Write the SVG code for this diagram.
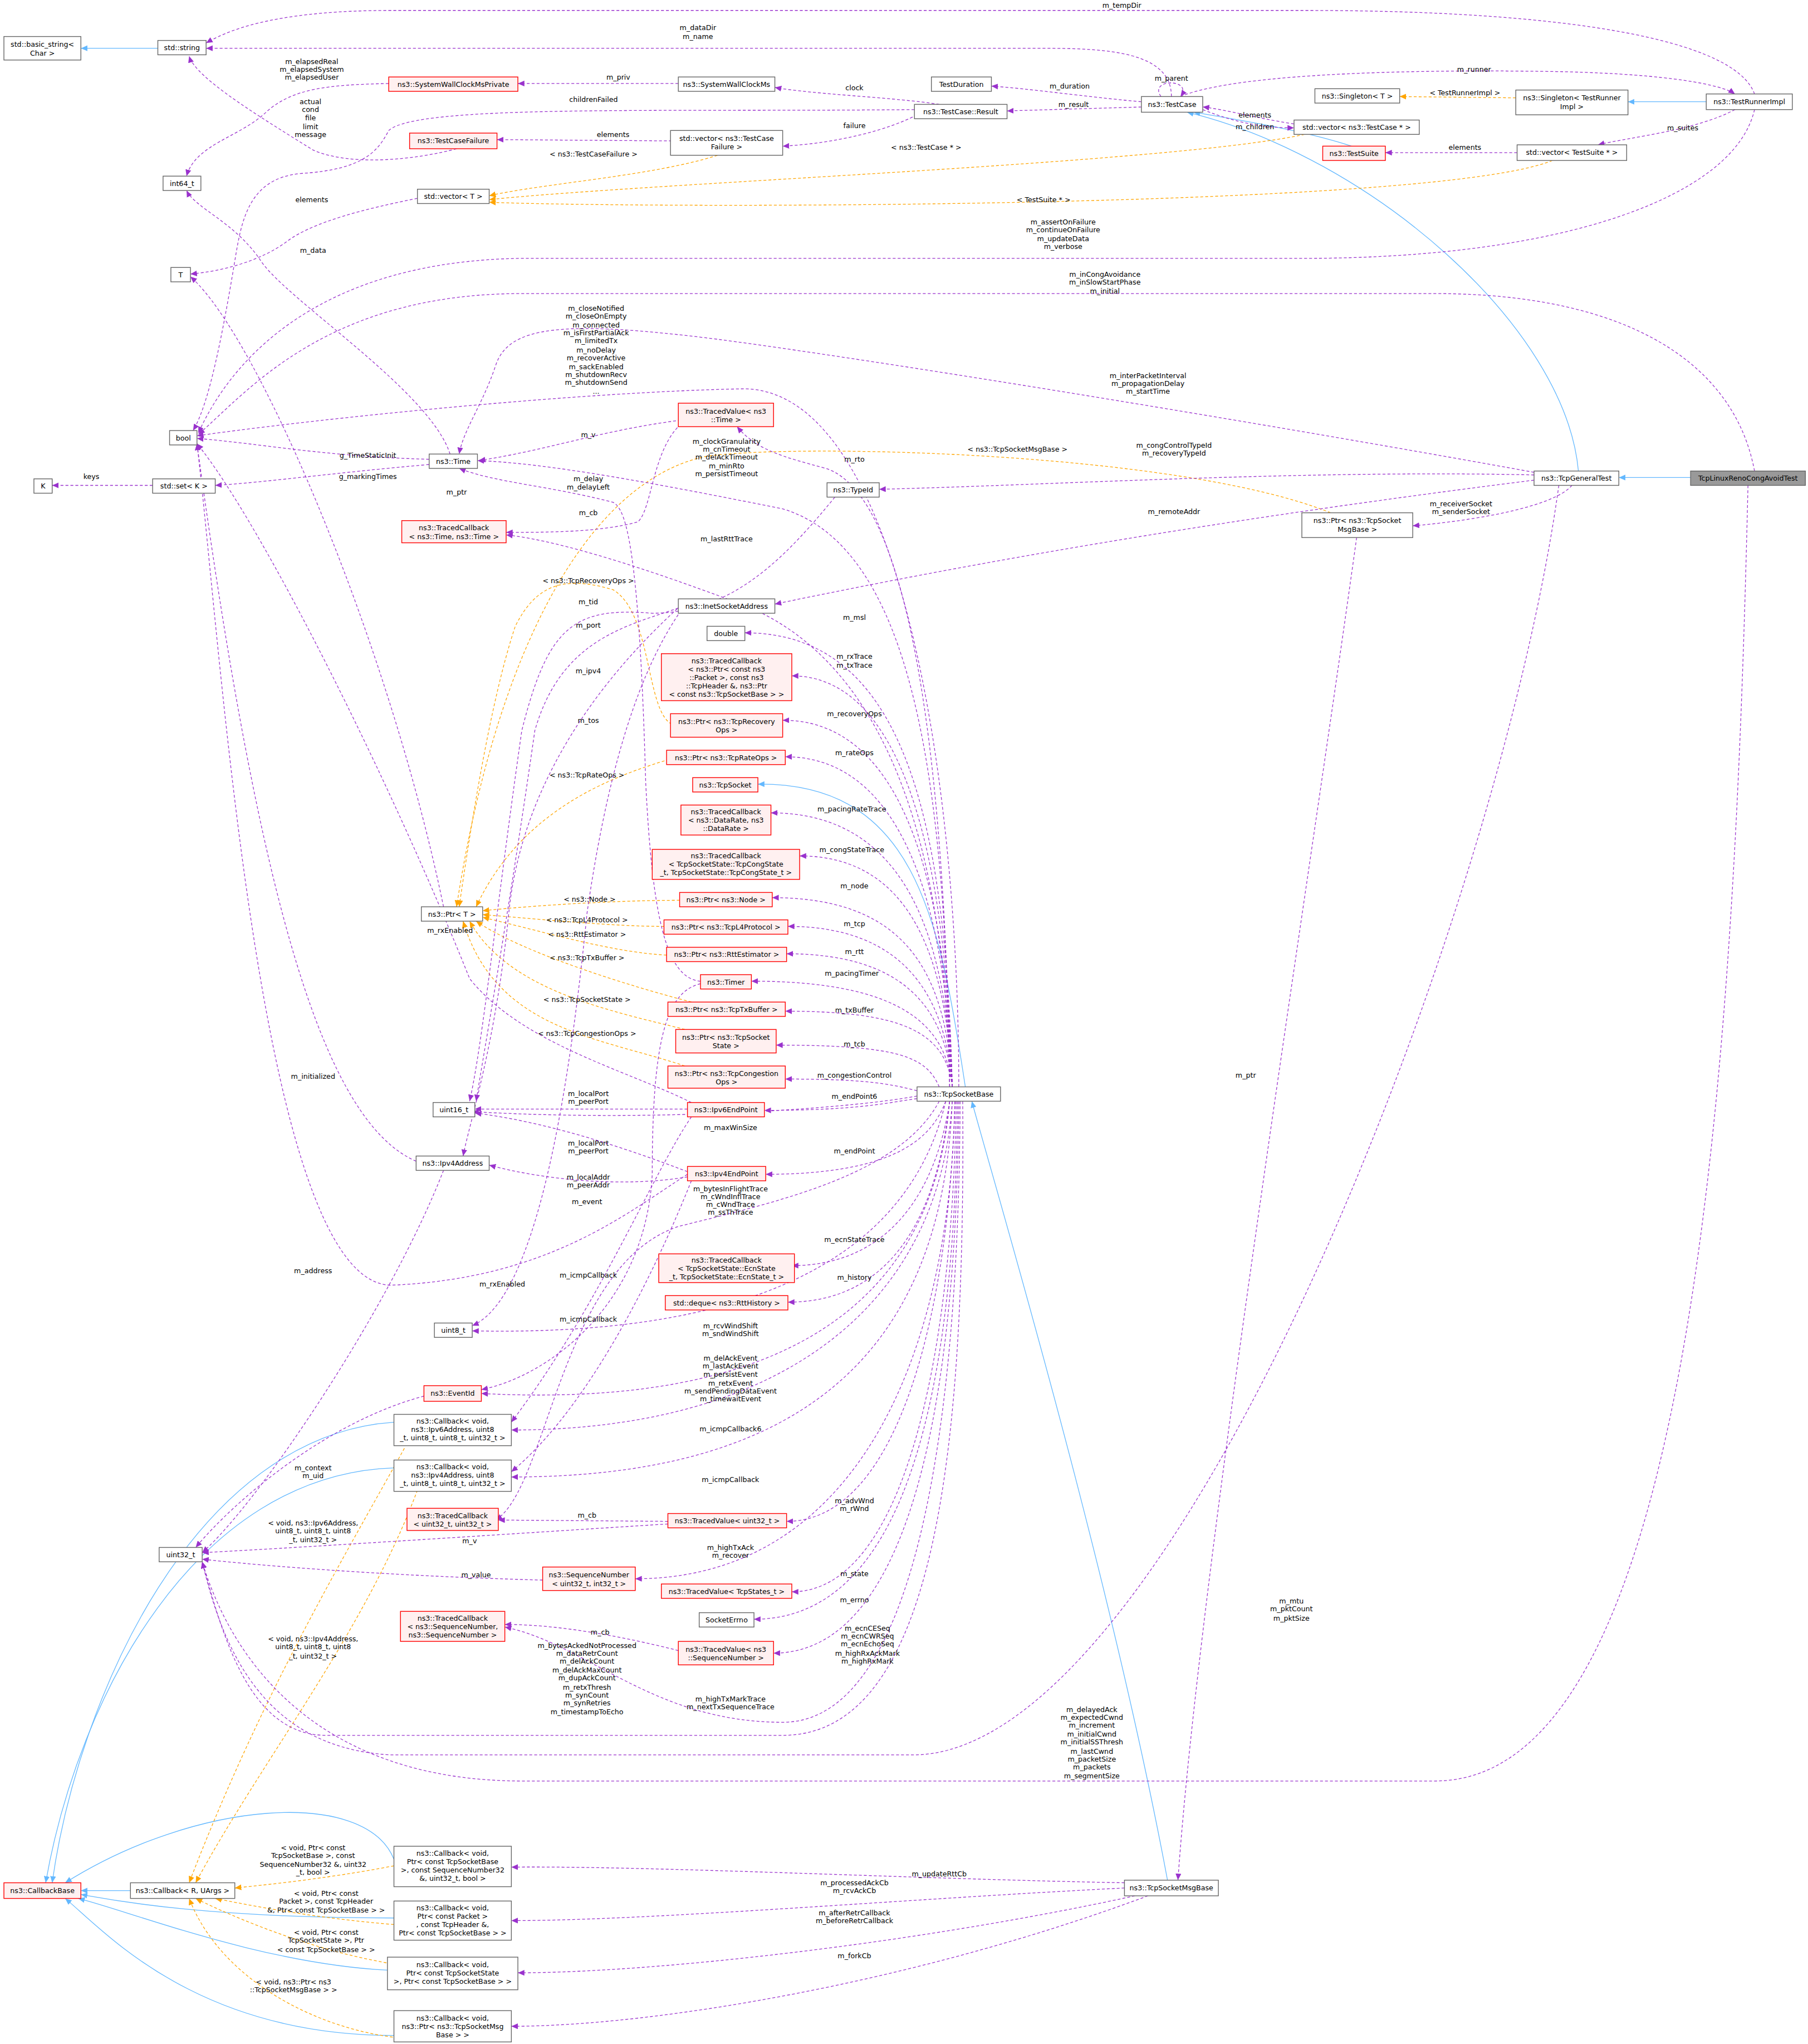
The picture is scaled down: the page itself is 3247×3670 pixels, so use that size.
<svg xmlns="http://www.w3.org/2000/svg" width="3247" height="3670" viewBox="0 0 3247 3670">
<defs>
<style>
text{font-family:"DejaVu Sans","Liberation Sans",sans-serif;font-size:5.4px;fill:#000;text-anchor:middle}
.n{fill:#fff;stroke:#666;stroke-width:0.6}
.r{fill:#fff0f0;stroke:#f00;stroke-width:0.6}
.g{fill:#999;stroke:#666;stroke-width:0.6}
.p{fill:none;stroke:#9a32cd;stroke-width:0.55;stroke-dasharray:2.2,1.6;marker-end:url(#ap)}
.b{fill:none;stroke:#63b8ff;stroke-width:0.55;marker-end:url(#ab)}
.o{fill:none;stroke:#ffa500;stroke-width:0.55;stroke-dasharray:2.2,1.6;marker-end:url(#ao)}
</style>
<marker id="ap" markerUnits="userSpaceOnUse" markerWidth="6" markerHeight="5" refX="5" refY="2.2" orient="auto"><path d="M0,0 L5,2.2 L0,4.4 z" fill="#9a32cd"/></marker>
<marker id="ab" markerUnits="userSpaceOnUse" markerWidth="6" markerHeight="5" refX="5" refY="2.2" orient="auto"><path d="M0,0 L5,2.2 L0,4.4 z" fill="#63b8ff"/></marker>
<marker id="ao" markerUnits="userSpaceOnUse" markerWidth="6" markerHeight="5" refX="5" refY="2.2" orient="auto"><path d="M0,0 L5,2.2 L0,4.4 z" fill="#ffa500"/></marker>
</defs>
<rect width="3247" height="3670" fill="#fff"/>
<g transform="scale(2.3427)">
<g id="connectors">
<path class="b" d="M121,37 L62,37"/>
<path class="b" d="M1308,78 L1248,78"/>
<path class="b" d="M1036,112 C1000,100 950,92 915,86"/>
<path class="b" d="M1210,361 C1200,250 1050,120 910,86"/>
<path class="b" d="M1298,366 L1241,366"/>
<path class="b" d="M895,1441 C850,1200 760,900 745,844"/>
<path class="b" d="M740,833 C720,700 700,600 581,601"/>
<path class="b" d="M100,1449 L62,1449"/>
<path class="b" d="M302,1090 C150,1100 60,1300 40,1443"/>
<path class="b" d="M302,1125 C150,1130 60,1300 35,1443"/>
<path class="b" d="M302,1425 C280,1370 150,1380 50,1443"/>
<path class="b" d="M302,1470 C150,1470 80,1455 62,1452"/>
<path class="b" d="M297,1510 C200,1505 100,1465 60,1455"/>
<path class="b" d="M302,1560 C150,1560 80,1480 50,1455"/>

<path class="o" d="M550,119 C500,135 420,140 375,150"/>
<path class="o" d="M1000,103 C900,125 500,140 375,153"/>
<path class="o" d="M1190,123 C1100,160 500,160 375,155"/>
<path class="o" d="M1162,75 L1073,74"/>
<path class="o" d="M1020,393 C900,345 600,340 540,350 C450,370 380,500 350,695"/>
<path class="o" d="M515,555 C495,545 500,470 470,452 C430,440 410,450 395,480 C375,540 360,640 352,695"/>
<path class="o" d="M513,582 C470,595 400,620 365,695"/>
<path class="o" d="M521,690 C480,690 420,693 370,698"/>
<path class="o" d="M509,710 C470,710 420,705 370,701"/>
<path class="o" d="M511,732 C470,730 420,715 370,703"/>
<path class="o" d="M530,768 C480,755 400,730 365,706"/>
<path class="o" d="M525,789 C470,775 390,760 360,706"/>
<path class="o" d="M525,817 C460,795 380,790 355,706"/>
<path class="o" d="M310,1110 C260,1200 200,1300 145,1443"/>
<path class="o" d="M320,1142 C280,1250 200,1350 150,1443"/>
<path class="o" d="M302,1430 C250,1440 200,1445 180,1447"/>
<path class="o" d="M302,1475 C240,1470 190,1460 165,1455"/>
<path class="o" d="M300,1505 C240,1495 180,1470 150,1455"/>
<path class="o" d="M320,1563 C250,1560 170,1520 145,1455"/>

<path class="p" d="M1345,72 C1330,30 1200,8 1000,8 L300,8 C220,8 180,20 158,33"/>
<path class="p" d="M898,74 C898,40 850,37 800,37 L158,37"/>
<path class="p" d="M350,114 C320,122 270,128 240,115 C200,90 150,60 145,43"/>
<path class="p" d="M298,64 C250,65 225,68 205,85 C185,105 150,110 143,135"/>
<path class="p" d="M520,64 L397,64"/>
<path class="p" d="M720,80 C690,75 620,72 594,67"/>
<path class="p" d="M875,78 C830,74 790,68 760,66"/>
<path class="p" d="M875,82 L772,85"/>
<path class="p" d="M890,74 C880,60 915,60 905,74"/>
<path class="p" d="M701,84 C500,86 320,80 298,100 C290,115 280,130 230,133 C190,137 185,170 180,200 C170,260 160,310 148,330"/>
<path class="p" d="M703,88 C680,100 640,110 600,112"/>
<path class="p" d="M515,108 L381,107"/>
<path class="p" d="M320,152 C280,160 240,170 220,185 C200,200 170,208 146,210"/>
<path class="p" d="M345,348 C330,300 220,230 200,200 C180,170 150,160 143,146"/>
<path class="p" d="M992,95 C960,90 940,84 922,82"/>
<path class="p" d="M922,84 C950,95 970,98 992,98"/>
<path class="p" d="M905,74 C950,55 1100,53 1200,55 C1280,57 1320,65 1330,72"/>
<path class="p" d="M1330,84 C1300,100 1250,105 1225,111"/>
<path class="p" d="M1163,117 L1062,117"/>
<path class="p" d="M1345,84 C1330,150 1200,198 1000,198 L400,198 C250,200 180,270 152,332"/>
<path class="p" d="M1345,361 C1330,280 1250,225 1100,225 L400,225 C250,225 190,300 152,333"/>
<path class="p" d="M1340,372 C1330,800 1300,1365 1100,1365 L400,1365 C250,1365 180,1280 155,1197"/>
<path class="p" d="M1176,362 C1000,330 700,280 550,260 C430,245 390,250 380,280 C370,310 355,330 352,348"/>
<path class="p" d="M1176,364 C1000,360 800,372 674,375"/>
<path class="p" d="M1176,368 C1000,390 800,420 594,463"/>
<path class="p" d="M1205,372 C1190,390 1120,400 1083,403"/>
<path class="p" d="M1195,372 C1150,700 900,1345 700,1345 L300,1345 C200,1340 170,1260 155,1197"/>
<path class="p" d="M1040,412 C1000,700 920,1200 903,1441"/>
<path class="p" d="M862,1443 C700,1440 500,1430 392,1431"/>
<path class="p" d="M862,1447 C700,1455 500,1472 392,1472"/>
<path class="p" d="M870,1453 C700,1490 500,1512 397,1512"/>
<path class="p" d="M880,1453 C700,1520 500,1553 392,1553"/>

<path class="p" d="M735,833 C735,600 690,300 571,298 C450,300 250,320 151,334"/>
<path class="p" d="M728,833 C725,600 700,380 633,359 C600,350 580,345 565,327"/>
<path class="p" d="M728,833 C725,600 700,420 600,390 C500,370 420,355 366,353"/>
<path class="p" d="M728,833 C725,650 680,500 560,460 C480,430 420,413 388,410"/>
<path class="p" d="M730,833 C725,620 690,485 571,485"/>
<path class="p" d="M730,833 C725,650 690,518 607,518"/>
<path class="p" d="M730,833 C725,670 690,552 600,552"/>
<path class="p" d="M730,833 C725,690 690,580 602,580"/>
<path class="p" d="M730,833 C725,710 690,623 591,623"/>
<path class="p" d="M730,833 C725,720 690,656 613,656"/>
<path class="p" d="M730,833 C725,740 690,688 592,688"/>
<path class="p" d="M730,833 C725,760 690,710 604,710"/>
<path class="p" d="M730,833 C725,770 690,731 603,731"/>
<path class="p" d="M730,833 C725,785 690,752 576,752"/>
<path class="p" d="M730,833 C725,790 690,775 602,775"/>
<path class="p" d="M720,833 C710,810 690,801 595,801"/>
<path class="p" d="M703,836 C680,830 660,827 602,827"/>
<path class="p" d="M703,842 C680,845 660,851 586,851"/>
<path class="p" d="M703,840 C650,850 500,860 362,852"/>
<path class="p" d="M725,844 C715,870 690,900 587,900"/>
<path class="p" d="M720,844 C690,900 600,920 520,940 C430,970 420,1140 380,1165"/>
<path class="p" d="M728,844 C720,900 690,970 607,970"/>
<path class="p" d="M728,844 C720,920 690,998 604,998"/>
<path class="p" d="M725,844 C700,950 600,1025 362,1020"/>
<path class="p" d="M728,844 C715,1000 600,1080 369,1068"/>
<path class="p" d="M730,844 C720,1000 600,1096 392,1096"/>
<path class="p" d="M730,844 C722,1050 600,1132 392,1132"/>
<path class="p" d="M732,844 C728,1000 690,1166 603,1166"/>
<path class="p" d="M732,844 C728,1050 650,1210 487,1210"/>
<path class="p" d="M733,844 C730,1050 690,1220 607,1220"/>
<path class="p" d="M734,844 C732,1080 690,1241 578,1241"/>
<path class="p" d="M735,844 C733,1100 690,1267 593,1267"/>
<path class="p" d="M736,844 C735,1100 700,1320 600,1320 C500,1320 450,1260 387,1247"/>
<path class="p" d="M738,844 C740,1100 720,1330 600,1330 L250,1330 C190,1330 170,1250 155,1197"/>

<path class="p" d="M522,322 C460,330 420,345 367,353"/>
<path class="p" d="M522,325 C500,345 500,390 489,400 C460,408 420,408 388,408"/>
<path class="p" d="M537,752 C510,750 500,700 495,600 C490,420 480,390 470,385 C420,372 380,370 352,359"/>
<path class="p" d="M537,754 C510,760 500,800 500,900 C495,1000 420,1055 369,1065"/>
<path class="p" d="M640,381 C600,430 560,470 500,470 C440,465 420,480 400,560 C380,700 370,800 360,844"/>
<path class="p" d="M520,466 C480,480 430,490 410,560 C390,700 372,800 365,844"/>
<path class="p" d="M522,464 C460,520 400,600 390,700 C380,800 360,860 355,886"/>
<path class="p" d="M522,468 C500,500 470,560 450,700 C430,900 400,1000 362,1016"/>
<path class="p" d="M527,850 L364,850"/>
<path class="p" d="M530,845 C480,820 400,800 360,750 C300,600 200,400 151,340"/>
<path class="p" d="M530,856 C500,900 460,1000 392,1090"/>
<path class="p" d="M527,898 C480,880 420,860 364,853"/>
<path class="p" d="M527,902 C480,910 420,905 375,893"/>
<path class="p" d="M530,905 C500,980 450,1080 392,1128"/>
<path class="p" d="M527,900 C480,930 420,980 300,985 C200,985 170,500 151,340"/>
<path class="p" d="M329,352 C250,350 200,340 151,336"/>
<path class="p" d="M329,356 C260,362 200,370 165,372"/>
<path class="p" d="M117,372 L40,372"/>
<path class="p" d="M340,695 C300,500 200,260 146,212"/>
<path class="p" d="M319,890 C250,860 200,700 151,340"/>
<path class="p" d="M340,897 C300,1000 200,1150 155,1190"/>
<path class="p" d="M512,1166 L382,1165"/>
<path class="p" d="M512,1168 C400,1175 250,1185 155,1190"/>
<path class="p" d="M416,1211 C300,1208 200,1200 155,1195"/>
<path class="p" d="M520,1265 C480,1255 430,1245 387,1245"/>
<path class="p" d="M325,1070 C250,1090 180,1150 150,1186"/>

<g id="labels">
<text x="860" y="6">m_tempDir</text>
<text x="535" y="23">m_dataDir</text><text x="535" y="30">m_name</text>
<text x="238" y="80">actual</text><text x="238" y="86">cond</text><text x="238" y="92">file</text><text x="238" y="99">limit</text><text x="238" y="105">message</text>
<text x="239" y="49">m_elapsedReal</text><text x="239" y="55">m_elapsedSystem</text><text x="239" y="61">m_elapsedUser</text>
<text x="474" y="61">m_priv</text>
<text x="655" y="69">clock</text>
<text x="820" y="68">m_duration</text>
<text x="823" y="82">m_result</text>
<text x="898" y="62">m_parent</text>
<text x="455" y="78">childrenFailed</text>
<text x="655" y="98">failure</text>
<text x="470" y="105">elements</text>
<text x="455" y="120">&lt; ns3::TestCaseFailure &gt;</text>
<text x="710" y="115">&lt; ns3::TestCase * &gt;</text>
<text x="800" y="155">&lt; TestSuite * &gt;</text>
<text x="239" y="155">elements</text>
<text x="240" y="194">m_data</text>
<text x="962" y="90">elements</text><text x="962" y="99">m_children</text>
<text x="1123" y="73">&lt; TestRunnerImpl &gt;</text>
<text x="1130" y="55">m_runner</text>
<text x="1290" y="100">m_suites</text>
<text x="1123" y="115">elements</text>
<text x="815" y="172">m_assertOnFailure</text><text x="815" y="178">m_continueOnFailure</text><text x="815" y="185">m_updateData</text><text x="815" y="191">m_verbose</text>
<text x="847" y="212">m_inCongAvoidance</text><text x="847" y="218">m_inSlowStartPhase</text><text x="847" y="225">m_initial</text>
<text x="457" y="238">m_closeNotified</text><text x="457" y="244">m_closeOnEmpty</text><text x="457" y="251">m_connected</text><text x="457" y="257">m_isFirstPartialAck</text><text x="457" y="263">m_limitedTx</text><text x="457" y="270">m_noDelay</text><text x="457" y="276">m_recoverActive</text><text x="457" y="283">m_sackEnabled</text><text x="457" y="289">m_shutdownRecv</text><text x="457" y="295">m_shutdownSend</text><text x="457" y="302">...</text>
<text x="880" y="290">m_interPacketInterval</text><text x="880" y="296">m_propagationDelay</text><text x="880" y="302">m_startTime</text>
<text x="451" y="335">m_v</text>
<text x="557" y="340">m_clockGranularity</text><text x="557" y="346">m_cnTimeout</text><text x="557" y="352">m_delAckTimeout</text><text x="557" y="359">m_minRto</text><text x="557" y="365">m_persistTimeout</text>
<text x="655" y="354">m_rto</text>
<text x="900" y="343">m_congControlTypeId</text><text x="900" y="349">m_recoveryTypeId</text>
<text x="780" y="346">&lt; ns3::TcpSocketMsgBase &gt;</text>
<text x="451" y="369">m_delay</text><text x="451" y="375">m_delayLeft</text>
<text x="350" y="379">m_ptr</text>
<text x="282" y="351">g_TimeStaticInit</text>
<text x="282" y="367">g_markingTimes</text>
<text x="70" y="367">keys</text>
<text x="1120" y="388">m_receiverSocket</text><text x="1120" y="394">m_senderSocket</text>
<text x="900" y="394">m_remoteAddr</text>
<text x="451" y="395">m_cb</text>
<text x="557" y="415">m_lastRttTrace</text>
<text x="451" y="447">&lt; ns3::TcpRecoveryOps &gt;</text>
<text x="451" y="463">m_tid</text>
<text x="655" y="475">m_msl</text>
<text x="451" y="481">m_port</text>
<text x="655" y="505">m_rxTrace</text><text x="655" y="512">m_txTrace</text>
<text x="451" y="516">m_ipv4</text>
<text x="655" y="549">m_recoveryOps</text>
<text x="451" y="554">m_tos</text>
<text x="655" y="579">m_rateOps</text>
<text x="450" y="596">&lt; ns3::TcpRateOps &gt;</text>
<text x="653" y="622">m_pacingRateTrace</text>
<text x="653" y="653">m_congStateTrace</text>
<text x="655" y="681">m_node</text>
<text x="452" y="691">&lt; ns3::Node &gt;</text>
<text x="450" y="707">&lt; ns3::TcpL4Protocol &gt;</text>
<text x="655" y="710">m_tcp</text>
<text x="345" y="715">m_rxEnabled</text>
<text x="450" y="718">&lt; ns3::RttEstimator &gt;</text>
<text x="655" y="731">m_rtt</text>
<text x="450" y="736">&lt; ns3::TcpTxBuffer &gt;</text>
<text x="653" y="748">m_pacingTimer</text>
<text x="450" y="768">&lt; ns3::TcpSocketState &gt;</text>
<text x="655" y="776">m_txBuffer</text>
<text x="450" y="794">&lt; ns3::TcpCongestionOps &gt;</text>
<text x="655" y="802">m_tcb</text>
<text x="955" y="826">m_ptr</text>
<text x="240" y="827">m_initialized</text>
<text x="655" y="826">m_congestionControl</text>
<text x="451" y="840">m_localPort</text><text x="451" y="846">m_peerPort</text>
<text x="655" y="842">m_endPoint6</text>
<text x="560" y="866">m_maxWinSize</text>
<text x="451" y="878">m_localPort</text><text x="451" y="884">m_peerPort</text>
<text x="655" y="884">m_endPoint</text>
<text x="451" y="904">m_localAddr</text><text x="451" y="910">m_peerAddr</text>
<text x="560" y="913">m_bytesInFlightTrace</text><text x="560" y="919">m_cWndInflTrace</text><text x="560" y="925">m_cWndTrace</text><text x="560" y="931">m_ssThTrace</text>
<text x="450" y="923">m_event</text>
<text x="655" y="952">m_ecnStateTrace</text>
<text x="240" y="976">m_address</text>
<text x="451" y="979">m_icmpCallback</text>
<text x="655" y="981">m_history</text>
<text x="385" y="986">m_rxEnabled</text>
<text x="451" y="1013">m_icmpCallback</text>
<text x="560" y="1018">m_rcvWindShift</text><text x="560" y="1024">m_sndWindShift</text>
<text x="560" y="1043">m_delAckEvent</text><text x="560" y="1049">m_lastAckEvent</text><text x="560" y="1055">m_persistEvent</text><text x="560" y="1062">m_retxEvent</text><text x="560" y="1068">m_sendPendingDataEvent</text><text x="560" y="1074">m_timewaitEvent</text>
<text x="560" y="1097">m_icmpCallback6</text>
<text x="240" y="1127">m_context</text><text x="240" y="1133">m_uid</text>
<text x="560" y="1136">m_icmpCallback</text>
<text x="655" y="1152">m_advWnd</text><text x="655" y="1158">m_rWnd</text>
<text x="450" y="1163">m_cb</text>
<text x="240" y="1169">&lt; void, ns3::Ipv6Address,</text><text x="240" y="1175">uint8_t, uint8_t, uint8</text><text x="240" y="1182">_t, uint32_t &gt;</text>
<text x="360" y="1183">m_v</text>
<text x="560" y="1188">m_highTxAck</text><text x="560" y="1194">m_recover</text>
<text x="655" y="1208">m_state</text>
<text x="365" y="1209">m_value</text>
<text x="655" y="1228">m_errno</text>
<text x="665" y="1250">m_ecnCESeq</text><text x="665" y="1256">m_ecnCWRSeq</text><text x="665" y="1262">m_ecnEchoSeq</text><text x="665" y="1269">m_highRxAckMark</text><text x="665" y="1275">m_highRxMark</text>
<text x="460" y="1253">m_cb</text>
<text x="240" y="1258">&lt; void, ns3::Ipv4Address,</text><text x="240" y="1264">uint8_t, uint8_t, uint8</text><text x="240" y="1271">_t, uint32_t &gt;</text>
<text x="450" y="1263">m_bytesAckedNotProcessed</text><text x="450" y="1269">m_dataRetrCount</text><text x="450" y="1275">m_delAckCount</text><text x="450" y="1282">m_delAckMaxCount</text><text x="450" y="1288">m_dupAckCount</text><text x="450" y="1295">m_retxThresh</text><text x="450" y="1301">m_synCount</text><text x="450" y="1307">m_synRetries</text><text x="450" y="1314">m_timestampToEcho</text>
<text x="560" y="1304">m_highTxMarkTrace</text><text x="560" y="1310">m_nextTxSequenceTrace</text>
<text x="990" y="1229">m_mtu</text><text x="990" y="1235">m_pktCount</text><text x="990" y="1242">m_pktSize</text>
<text x="837" y="1312">m_delayedAck</text><text x="837" y="1318">m_expectedCwnd</text><text x="837" y="1324">m_increment</text><text x="837" y="1331">m_initialCwnd</text><text x="837" y="1337">m_initialSSThresh</text><text x="837" y="1344">m_lastCwnd</text><text x="837" y="1350">m_packetSize</text><text x="837" y="1356">m_packets</text><text x="837" y="1363">m_segmentSize</text>
<text x="240" y="1418">&lt; void, Ptr&lt; const</text><text x="240" y="1424">TcpSocketBase &gt;, const</text><text x="240" y="1431">SequenceNumber32 &amp;, uint32</text><text x="240" y="1437">_t, bool &gt;</text>
<text x="720" y="1438">m_updateRttCb</text>
<text x="655" y="1445">m_processedAckCb</text><text x="655" y="1451">m_rcvAckCb</text>
<text x="250" y="1453">&lt; void, Ptr&lt; const</text><text x="250" y="1459">Packet &gt;, const TcpHeader</text><text x="250" y="1466">&amp;, Ptr&lt; const TcpSocketBase &gt; &gt;</text>
<text x="655" y="1468">m_afterRetrCallback</text><text x="655" y="1474">m_beforeRetrCallback</text>
<text x="250" y="1483">&lt; void, Ptr&lt; const</text><text x="250" y="1489">TcpSocketState &gt;, Ptr</text><text x="250" y="1496">&lt; const TcpSocketBase &gt; &gt;</text>
<text x="655" y="1501">m_forkCb</text>
<text x="225" y="1521">&lt; void, ns3::Ptr&lt; ns3</text><text x="225" y="1527">::TcpSocketMsgBase &gt; &gt;</text>
</g>
</g>

<g id="n_basic"><rect class="n" x="3" y="28" width="59" height="18"/><text x="32.5" y="36">std::basic_string&lt;</text><text x="32.5" y="42.5">Char &gt;</text></g>
<g id="n_string"><rect class="n" x="121" y="31" width="37" height="11"/><text x="139.5" y="38.5">std::string</text></g>
<g id="n_swcmp"><rect class="r" x="298" y="59" width="99" height="11"/><text x="347.5" y="66.5">ns3::SystemWallClockMsPrivate</text></g>
<g id="n_swcm"><rect class="n" x="520" y="59" width="74" height="11"/><text x="557" y="66.5">ns3::SystemWallClockMs</text></g>
<g id="n_dur"><rect class="n" x="714" y="59" width="46" height="11"/><text x="737" y="66.5">TestDuration</text></g>
<g id="n_tc"><rect class="n" x="875" y="74" width="47" height="12"/><text x="898.5" y="81.8">ns3::TestCase</text></g>
<g id="n_res"><rect class="n" x="701" y="80" width="71" height="11"/><text x="736.5" y="87.5">ns3::TestCase::Result</text></g>
<g id="n_sing"><rect class="n" x="1008" y="68" width="65" height="11"/><text x="1040.5" y="75.5">ns3::Singleton&lt; T &gt;</text></g>
<g id="n_singtr"><rect class="n" x="1162" y="69" width="86" height="19"/><text x="1205" y="77">ns3::Singleton&lt; TestRunner</text><text x="1205" y="83.5">Impl &gt;</text></g>
<g id="n_tri"><rect class="n" x="1308" y="72" width="66" height="12"/><text x="1341" y="79.8">ns3::TestRunnerImpl</text></g>
<g id="n_tcf"><rect class="r" x="314" y="102" width="67" height="12"/><text x="347.5" y="109.8">ns3::TestCaseFailure</text></g>
<g id="n_vtcf"><rect class="n" x="514" y="100" width="86" height="19"/><text x="557" y="108">std::vector&lt; ns3::TestCase</text><text x="557" y="114.5">Failure &gt;</text></g>
<g id="n_vtc"><rect class="n" x="992" y="92" width="96" height="11"/><text x="1040" y="99.5">std::vector&lt; ns3::TestCase * &gt;</text></g>
<g id="n_ts"><rect class="r" x="1014" y="112" width="48" height="11"/><text x="1038" y="119.5">ns3::TestSuite</text></g>
<g id="n_vts"><rect class="n" x="1163" y="111" width="84" height="12"/><text x="1205" y="118.8">std::vector&lt; TestSuite * &gt;</text></g>
<g id="n_i64"><rect class="n" x="125" y="135" width="29" height="11"/><text x="139.5" y="142.5">int64_t</text></g>
<g id="n_vT"><rect class="n" x="320" y="145" width="55" height="11"/><text x="347.5" y="152.5">std::vector&lt; T &gt;</text></g>
<g id="n_T"><rect class="n" x="131" y="205" width="15" height="11"/><text x="138.5" y="212.5">T</text></g>
<g id="n_bool"><rect class="n" x="130" y="330" width="21" height="11"/><text x="140.5" y="337.5">bool</text></g>
<g id="n_K"><rect class="n" x="26" y="367" width="14" height="11"/><text x="33" y="374.5">K</text></g>
<g id="n_set"><rect class="n" x="117" y="367" width="48" height="11"/><text x="141" y="374.5">std::set&lt; K &gt;</text></g>
<g id="n_time"><rect class="n" x="329" y="348" width="37" height="11"/><text x="347.5" y="355.5">ns3::Time</text></g>
<g id="n_tvtime"><rect class="r" x="520" y="309" width="73" height="18"/><text x="556.5" y="317">ns3::TracedValue&lt; ns3</text><text x="556.5" y="323.5">::Time &gt;</text></g>
<g id="n_typeid"><rect class="n" x="634" y="370" width="40" height="11"/><text x="654" y="377.5">ns3::TypeId</text></g>
<g id="n_tgt"><rect class="n" x="1176" y="361" width="65" height="11"/><text x="1208.5" y="368.5">ns3::TcpGeneralTest</text></g>
<g id="n_tlr"><rect class="g" x="1296" y="361" width="88" height="11"/><text x="1340" y="368.5">TcpLinuxRenoCongAvoidTest</text></g>
<g id="n_ptrmsg"><rect class="n" x="998" y="393" width="85" height="19"/><text x="1040.5" y="401">ns3::Ptr&lt; ns3::TcpSocket</text><text x="1040.5" y="407.5">MsgBase &gt;</text></g>
<g id="n_tctime"><rect class="r" x="308" y="399" width="80" height="17"/><text x="348" y="406.5">ns3::TracedCallback</text><text x="348" y="413">&lt; ns3::Time, ns3::Time &gt;</text></g>
<g id="n_inet"><rect class="n" x="520" y="459" width="74" height="11"/><text x="557" y="466.5">ns3::InetSocketAddress</text></g>
<g id="n_double"><rect class="n" x="542" y="480" width="29" height="11"/><text x="556.5" y="487.5">double</text></g>
<g id="n_tcpkt"><rect class="r" x="507" y="501" width="100" height="36"/><text x="557" y="508.5">ns3::TracedCallback</text><text x="557" y="515">&lt; ns3::Ptr&lt; const ns3</text><text x="557" y="521.4">::Packet &gt;, const ns3</text><text x="557" y="527.8">::TcpHeader &amp;, ns3::Ptr</text><text x="557" y="534.2">&lt; const ns3::TcpSocketBase &gt; &gt;</text></g>
<g id="n_recov"><rect class="r" x="514" y="547" width="86" height="18"/><text x="557" y="555">ns3::Ptr&lt; ns3::TcpRecovery</text><text x="557" y="561.5">Ops &gt;</text></g>
<g id="n_rate"><rect class="r" x="511" y="575" width="91" height="11"/><text x="556.5" y="582.5">ns3::Ptr&lt; ns3::TcpRateOps &gt;</text></g>
<g id="n_tcpsock"><rect class="r" x="531" y="596" width="50" height="11"/><text x="556" y="603.5">ns3::TcpSocket</text></g>
<g id="n_tcrate"><rect class="r" x="522" y="617" width="69" height="23"/><text x="556.5" y="624">ns3::TracedCallback</text><text x="556.5" y="630.4">&lt; ns3::DataRate, ns3</text><text x="556.5" y="636.8">::DataRate &gt;</text></g>
<g id="n_tccong"><rect class="r" x="500" y="651" width="113" height="23"/><text x="556.5" y="658">ns3::TracedCallback</text><text x="556.5" y="664.4">&lt; TcpSocketState::TcpCongState</text><text x="556.5" y="670.8">_t, TcpSocketState::TcpCongState_t &gt;</text></g>
<g id="n_node"><rect class="r" x="521" y="684" width="71" height="11"/><text x="556.5" y="691.5">ns3::Ptr&lt; ns3::Node &gt;</text></g>
<g id="n_ptrT"><rect class="n" x="323" y="695" width="47" height="11"/><text x="346.5" y="702.5">ns3::Ptr&lt; T &gt;</text></g>
<g id="n_l4"><rect class="r" x="509" y="705" width="95" height="11"/><text x="556.5" y="712.5">ns3::Ptr&lt; ns3::TcpL4Protocol &gt;</text></g>
<g id="n_rtt"><rect class="r" x="511" y="726" width="92" height="11"/><text x="557" y="733.5">ns3::Ptr&lt; ns3::RttEstimator &gt;</text></g>
<g id="n_timer"><rect class="r" x="537" y="747" width="39" height="11"/><text x="556.5" y="754.5">ns3::Timer</text></g>
<g id="n_txbuf"><rect class="r" x="512" y="768" width="90" height="11"/><text x="557" y="775.5">ns3::Ptr&lt; ns3::TcpTxBuffer &gt;</text></g>
<g id="n_tcbst"><rect class="r" x="518" y="789" width="77" height="18"/><text x="556.5" y="797">ns3::Ptr&lt; ns3::TcpSocket</text><text x="556.5" y="803.5">State &gt;</text></g>
<g id="n_congops"><rect class="r" x="512" y="817" width="90" height="17"/><text x="557" y="824.5">ns3::Ptr&lt; ns3::TcpCongestion</text><text x="557" y="831">Ops &gt;</text></g>
<g id="n_u16"><rect class="n" x="332" y="845" width="32" height="11"/><text x="348" y="852.5">uint16_t</text></g>
<g id="n_ip6ep"><rect class="r" x="527" y="845" width="59" height="11"/><text x="556.5" y="852.5">ns3::Ipv6EndPoint</text></g>
<g id="n_tsb"><rect class="n" x="703" y="833" width="64" height="11"/><text x="735" y="840.5">ns3::TcpSocketBase</text></g>
<g id="n_ip4"><rect class="n" x="319" y="886" width="56" height="11"/><text x="347" y="893.5">ns3::Ipv4Address</text></g>
<g id="n_ip4ep"><rect class="r" x="527" y="894" width="60" height="11"/><text x="557" y="901.5">ns3::Ipv4EndPoint</text></g>
<g id="n_tcecn"><rect class="r" x="505" y="961" width="104" height="22"/><text x="557" y="967.5">ns3::TracedCallback</text><text x="557" y="973.9">&lt; TcpSocketState::EcnState</text><text x="557" y="980.3">_t, TcpSocketState::EcnState_t &gt;</text></g>
<g id="n_deque"><rect class="r" x="510" y="993" width="94" height="11"/><text x="557" y="1000.5">std::deque&lt; ns3::RttHistory &gt;</text></g>
<g id="n_u8"><rect class="n" x="333" y="1014" width="29" height="11"/><text x="347.5" y="1021.5">uint8_t</text></g>
<g id="n_event"><rect class="r" x="325" y="1062" width="44" height="12"/><text x="347" y="1069.8">ns3::EventId</text></g>
<g id="n_cb6"><rect class="n" x="302" y="1084" width="90" height="24"/><text x="347" y="1091">ns3::Callback&lt; void,</text><text x="347" y="1097.4">ns3::Ipv6Address, uint8</text><text x="347" y="1103.8">_t, uint8_t, uint8_t, uint32_t &gt;</text></g>
<g id="n_cb4"><rect class="n" x="302" y="1119" width="90" height="24"/><text x="347" y="1126">ns3::Callback&lt; void,</text><text x="347" y="1132.4">ns3::Ipv4Address, uint8</text><text x="347" y="1138.8">_t, uint8_t, uint8_t, uint32_t &gt;</text></g>
<g id="n_tcu32"><rect class="r" x="312" y="1156" width="70" height="17"/><text x="347" y="1163.5">ns3::TracedCallback</text><text x="347" y="1170">&lt; uint32_t, uint32_t &gt;</text></g>
<g id="n_tvu32"><rect class="r" x="512" y="1160" width="91" height="11"/><text x="557.5" y="1167.5">ns3::TracedValue&lt; uint32_t &gt;</text></g>
<g id="n_u32"><rect class="n" x="122" y="1186" width="33" height="11"/><text x="138.5" y="1193.5">uint32_t</text></g>
<g id="n_seq"><rect class="r" x="416" y="1201" width="71" height="18"/><text x="451.5" y="1209">ns3::SequenceNumber</text><text x="451.5" y="1215.5">&lt; uint32_t, int32_t &gt;</text></g>
<g id="n_tvst"><rect class="r" x="507" y="1214" width="100" height="11"/><text x="557" y="1221.5">ns3::TracedValue&lt; TcpStates_t &gt;</text></g>
<g id="n_tcseq"><rect class="r" x="307" y="1235" width="80" height="23"/><text x="347" y="1242">ns3::TracedCallback</text><text x="347" y="1248.4">&lt; ns3::SequenceNumber,</text><text x="347" y="1254.8">ns3::SequenceNumber &gt;</text></g>
<g id="n_errno"><rect class="n" x="536" y="1236" width="42" height="11"/><text x="557" y="1243.5">SocketErrno</text></g>
<g id="n_tvseq"><rect class="r" x="520" y="1258" width="73" height="18"/><text x="556.5" y="1266">ns3::TracedValue&lt; ns3</text><text x="556.5" y="1272.5">::SequenceNumber &gt;</text></g>
<g id="n_cbseq"><rect class="n" x="302" y="1415" width="90" height="31"/><text x="347" y="1422.5">ns3::Callback&lt; void,</text><text x="347" y="1428.9">Ptr&lt; const TcpSocketBase</text><text x="347" y="1435.3">&gt;, const SequenceNumber32</text><text x="347" y="1441.7">&amp;, uint32_t, bool &gt;</text></g>
<g id="n_cbbase"><rect class="r" x="3" y="1443" width="59" height="12"/><text x="32.5" y="1450.8">ns3::CallbackBase</text></g>
<g id="n_cbR"><rect class="n" x="100" y="1443" width="80" height="12"/><text x="140" y="1450.8">ns3::Callback&lt; R, UArgs &gt;</text></g>
<g id="n_msgbase"><rect class="n" x="862" y="1441" width="72" height="12"/><text x="898" y="1448.8">ns3::TcpSocketMsgBase</text></g>
<g id="n_cbpkt"><rect class="n" x="302" y="1457" width="90" height="30"/><text x="347" y="1464.3">ns3::Callback&lt; void,</text><text x="347" y="1470.7">Ptr&lt; const Packet &gt;</text><text x="347" y="1477.1">, const TcpHeader &amp;,</text><text x="347" y="1483.5">Ptr&lt; const TcpSocketBase &gt; &gt;</text></g>
<g id="n_cbst"><rect class="n" x="297" y="1500" width="100" height="25"/><text x="347" y="1507.5">ns3::Callback&lt; void,</text><text x="347" y="1513.9">Ptr&lt; const TcpSocketState</text><text x="347" y="1520.3">&gt;, Ptr&lt; const TcpSocketBase &gt; &gt;</text></g>
<g id="n_cbmsg"><rect class="n" x="302" y="1541" width="90" height="24"/><text x="347" y="1548.5">ns3::Callback&lt; void,</text><text x="347" y="1554.9">ns3::Ptr&lt; ns3::TcpSocketMsg</text><text x="347" y="1561.3">Base &gt; &gt;</text></g>
</g>
</svg>
